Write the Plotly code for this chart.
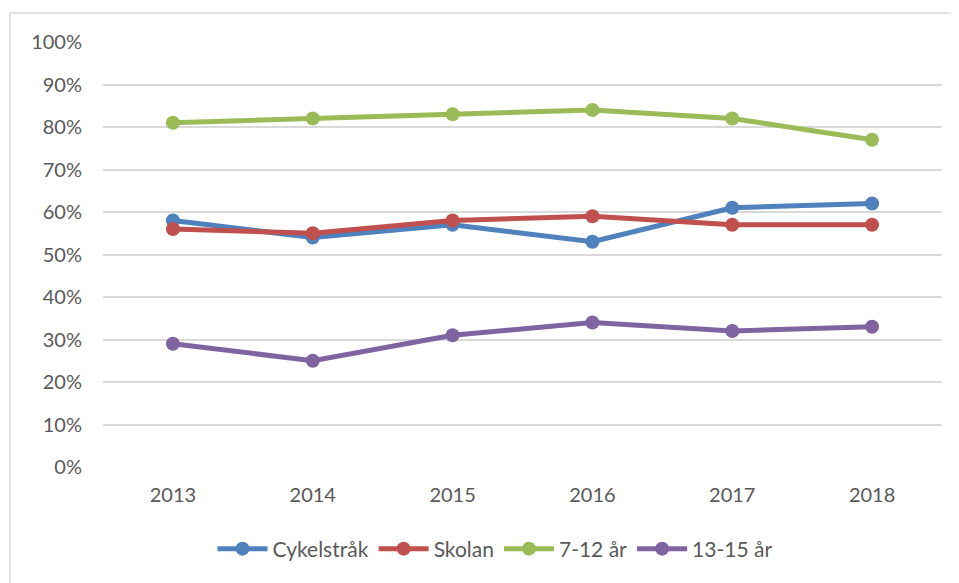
import plotly.graph_objects as go

years = ["2013", "2014", "2015", "2016", "2017", "2018"]
cykelstrak = [0.58, 0.54, 0.57, 0.53, 0.61, 0.62]
skolan = [0.56, 0.55, 0.58, 0.59, 0.57, 0.57]
ar_7_12 = [0.81, 0.82, 0.83, 0.84, 0.82, 0.77]
ar_13_15 = [0.29, 0.25, 0.31, 0.34, 0.32, 0.33]

series = [
    ("Cykelstråk", cykelstrak, "#4f81bd"),
    ("Skolan", skolan, "#c0504d"),
    ("7-12 år", ar_7_12, "#9bbb59"),
    ("13-15 år", ar_13_15, "#8064a2"),
]

OFF = 8  # page body margin
W, H = 959, 583
L, R, T, B = 103 - OFF, 942 - OFF, 42 - OFF, 467 - OFF
pw, ph = R - L, B - T

fig = go.Figure()
for name, vals, col in series:
    fig.add_trace(go.Scatter(
        x=years, y=vals, name=name, mode="lines+markers",
        line=dict(color=col, width=5),
        marker=dict(color=col, size=14),
    ))

def px_x(v):
    return (v - OFF - L) / pw

def px_y(v):
    return (B - (v - OFF)) / ph

fig.add_shape(type="rect", xref="paper", yref="paper",
              x0=px_x(10), x1=px_x(990), y0=px_y(620), y1=px_y(13),
              line=dict(color="#d9d9d9", width=1.5), layer="below")

font = "Lato, 'Open Sans', sans-serif"
fig.update_layout(
    width=W, height=H,
    margin=dict(l=L, r=W - R, t=T, b=H - B),
    paper_bgcolor="white", plot_bgcolor="white",
    font=dict(family=font, size=20, color="#595959"),
    showlegend=True,
    legend=dict(orientation="h", x=px_x(495), xanchor="center",
                y=px_y(549), yanchor="middle",
                font=dict(family=font, size=21, color="#595959"),
                itemwidth=50, tracegroupgap=0),
    xaxis=dict(type="category", range=[-0.5, len(years) - 0.5],
               showgrid=False, zeroline=False,
               showline=False, ticks="", ticklabelstandoff=14,
               tickfont=dict(size=20, color="#595959")),
    yaxis=dict(range=[0, 1.0], dtick=0.1, tickformat=".0%",
               showgrid=True, gridcolor="#d9d9d9", gridwidth=1.5,
               zeroline=False, showline=False, ticks="",
               ticklabelstandoff=20,
               tickfont=dict(size=20, color="#595959")),
)

fig.write_html("out.html")
